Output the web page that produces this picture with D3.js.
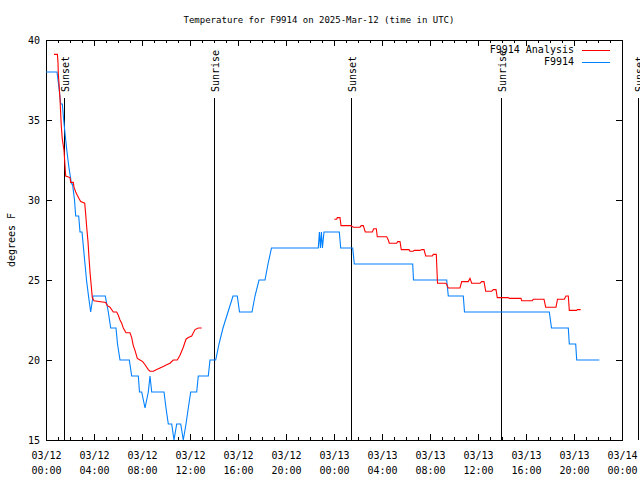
<!DOCTYPE html>
<html>
<head>
<meta charset="utf-8">
<script src="https://cdn.jsdelivr.net/npm/d3@7"></script>
<style>
  html, body { margin: 0; padding: 0; background: #fff; }
  svg { display: block; }
  text { font-family: "DejaVu Sans Mono", "Liberation Mono", monospace; font-size: 10px; fill: #000; }
</style>
</head>
<body>
<script>
// ---- Data (minutes after 2025-03-12 00:00 UTC, temperature °F) ----
const obsMinutes = [0,55,65,73.5,81.5,88.5,96.5,105,115,127.5,132.5,142.5,148.5,163.5,170,180,187.5,195,202.5,212.5,223.5,235,296.5,311.5,323.5,350,357.5,370,416.5,428.5,461.5,467.5,478.5,495,511.5,520,528.5,590,600,611.5,628.5,640,653.5,673.5,686.5,700,711.5,723.5,753.5,761.5,811.5,820,848.5,865,885,910,935,956.5,967.5,1030,1045,1065,1095,1110,1127.5,1361.5,1367,1372,1377,1382,1390,1466.5,1473.5,1533.5,1541.5,1833.5,1837.5,2003.5,2011.5,2086.5,2092.5,2516.5,2527.5,2611.5,2616.5,2648.5,2653.5,2766.5];
const obsTemps   = [38,38,37,36,36,35,34,33,32,31,31,30,29,29,28,28,27,26,25,24,23,24,24,23,22,22,21,20,20,19,19,18,18,17,18,19,18,18,17,16,16,15,16,16,15,16,17,18,18,19,19,20,20,21,22,23,24,24,23,23,24,25,25,26,27,27,28,27,28,27,28,28,27,27,26,26,25,25,24,24,23,23,22,22,21,21,20,20];

const analysisMinutes = [40,57,60,61.5,65,70,76.5,81.5,90,98.5,120,123.5,136.5,140,148.5,156.5,165,173.5,193.5,198.5,203.5,210,215,220,226.5,231.5,240,298.5,306.5,320,336.5,353.5,361.5,370,378.5,386.5,400,420,428.5,436.5,445,456.5,470,483.5,495,511.5,520,536.5,553.5,570,586.5,603.5,620,636.5,656.5,670,686.5,700,711.5,728.5,745,761.5,778.5,
  1100,
  1441.5,1453.5,1456.5,1470,1475,1523.5,1536.5,1570,1576.5,1586.5,1596.5,1631.5,1638.5,1651.5,1656.5,1703.5,1711.5,1716.5,1753.5,1758.5,1770,1776.5,1815,1820,1836.5,1841.5,1870,1878.5,1890,1898.5,1931.5,1936.5,1951.5,1957.5,2000,2011.5,2070,2078.5,2111.5,2120,2128.5,2170,2178.5,2190,2198.5,2228.5,2236.5,2250,2256.5,2311.5,2316.5,2375,2378.5,2431.5,2436.5,2490,2498.5,2550,2557.5,2591.5,2600,2611.5,2616.5,2652.5,2657.5,2673.5];
const analysisTemps = [39.1,39.1,38.6,37.9,37.3,36.3,34.6,33.8,33.1,31.5,31.4,31.1,31.1,30.8,30.5,30.3,30.1,29.9,29.8,29.1,28.3,27.4,26.4,25.5,24.6,23.9,23.7,23.6,23.4,23.3,23.0,23.0,22.8,22.5,22.3,22.0,21.7,21.7,21.4,20.9,20.6,20.1,20.0,19.9,19.7,19.4,19.3,19.3,19.4,19.5,19.6,19.7,19.8,20.0,20.0,20.3,20.8,21.3,21.4,21.5,21.9,22.0,22.0,
  null,
  28.8,28.8,28.9,28.9,28.4,28.4,28.3,28.3,28.4,28.4,28.0,28.0,28.2,28.2,27.7,27.7,27.5,27.3,27.3,27.4,27.4,26.9,26.9,26.8,26.8,26.85,26.85,26.9,26.9,26.5,26.5,26.6,26.6,24.8,24.8,24.5,24.5,24.9,24.9,25.1,24.8,24.8,24.9,24.9,24.3,24.3,24.4,24.4,23.9,23.9,23.85,23.85,23.7,23.7,23.8,23.8,23.3,23.3,23.8,23.8,24.0,24.0,23.1,23.1,23.15,23.15];

const sunMinutes = [90, 840, 1525, 2275, 2960];
const sunLabels  = ["Sunset", "Sunrise", "Sunset", "Sunrise", "Sunset"];

const yTicks = [15, 20, 25, 30, 35, 40];
const seriesNames = ["F9914 Analysis", "F9914"];
const seriesColors = ["#ff0000", "#0080ff"];
const titleText = "Temperature for F9914 on 2025-Mar-12 (time in UTC)";
const yLabel = "degrees F";

// ---- Layout ----
const W = 640, H = 480;
const L = 46, R = 622, T = 40, B = 440;
const base = Date.UTC(2025, 2, 12, 0, 0);
const toDate = m => new Date(base + m * 60000);

const x = d3.scaleUtc().domain([toDate(0), toDate(2880)]).range([L, R]);
const y = d3.scaleLinear().domain([15, 40]).range([B, T]);

const svg = d3.select("body").append("svg").attr("width", W).attr("height", H);

svg.append("defs").append("clipPath").attr("id", "plotclip")
  .append("rect").attr("x", L).attr("y", T).attr("width", R - L).attr("height", B - T + 1);

// Title
svg.append("text").attr("x", 319).attr("y", 20).attr("text-anchor", "middle")
  .attr("dominant-baseline", "middle").style("font-size", "9px").text(titleText);

// Y label
svg.append("text").attr("transform", "translate(12,240) rotate(-90)")
  .attr("text-anchor", "middle").attr("dominant-baseline", "middle").text(yLabel);

// Axes ticks (inward)
const major = d3.utcHour.every(4), minor = d3.utcHour.every(1);
function clean(g) { g.select(".domain").remove(); g.selectAll("line").attr("stroke", "#000").attr("shape-rendering", "crispEdges"); }
svg.append("g").attr("transform", `translate(0,${B})`).call(d3.axisTop(x).ticks(minor).tickSize(3).tickFormat("")).call(clean);
svg.append("g").attr("transform", `translate(0,${B})`).call(d3.axisTop(x).ticks(major).tickSize(6).tickFormat("")).call(clean);
svg.append("g").attr("transform", `translate(0,${T})`).call(d3.axisBottom(x).ticks(minor).tickSize(3).tickFormat("")).call(clean);
svg.append("g").attr("transform", `translate(0,${T})`).call(d3.axisBottom(x).ticks(major).tickSize(6).tickFormat("")).call(clean);
svg.append("g").attr("transform", `translate(${L},0)`).call(d3.axisRight(y).tickValues(yTicks).tickSize(6).tickFormat("")).call(clean);
svg.append("g").attr("transform", `translate(${R},0)`).call(d3.axisLeft(y).tickValues(yTicks).tickSize(6).tickFormat("")).call(clean);

// Y labels
const yl = svg.append("g").attr("transform", `translate(${L},0)`)
  .call(d3.axisLeft(y).tickValues(yTicks).tickSize(0).tickPadding(6).tickFormat(d3.format("d")));
yl.select(".domain").remove();
yl.selectAll("text").attr("font-family", null).attr("font-size", null).attr("fill", "#000");

// X labels (two lines)
const xl = svg.append("g").attr("transform", `translate(0,${B})`)
  .call(d3.axisBottom(x).ticks(major).tickSize(0).tickFormat(""));
xl.select(".domain").remove();
const fDay = d3.utcFormat("%m/%d"), fTime = d3.utcFormat("%H:%M");
xl.selectAll(".tick").each(function(d) {
  const t = d3.select(this).append("text").attr("text-anchor", "middle");
  t.append("tspan").attr("x", 0).attr("y", 19).text(fDay(d));
  t.append("tspan").attr("x", 0).attr("y", 34).text(fTime(d));
});

// Frame
svg.append("rect").attr("x", L + 0.5).attr("y", T + 0.5).attr("width", R - L).attr("height", B - T)
  .attr("fill", "none").attr("stroke", "#000").attr("stroke-width", 1);

// Sunrise / sunset markers
const sun = svg.append("g");
sunMinutes.forEach((m, i) => {
  const sx = Math.round(x(toDate(m))) + 0.5;
  sun.append("line").attr("x1", sx).attr("x2", sx).attr("y1", 98).attr("y2", B)
    .attr("stroke", "#000").attr("stroke-width", 1);
  sun.append("text").attr("transform", `translate(${sx + 4},92) rotate(-90)`)
    .attr("text-anchor", "start").text(sunLabels[i]);
});

// Series
const line = d3.line().defined(d => d[1] != null).x(d => x(toDate(d[0]))).y(d => y(d[1]));
const obsData = obsMinutes.map((m, i) => [m, obsTemps[i]]);
const anaData = analysisMinutes.map((m, i) => [m, analysisTemps[i]]);
const plot = svg.append("g").attr("clip-path", "url(#plotclip)");
plot.append("path").datum(obsData).attr("d", line).attr("fill", "none")
  .attr("stroke", seriesColors[1]).attr("stroke-width", 1.1);
plot.append("path").datum(anaData).attr("d", line).attr("fill", "none")
  .attr("stroke", seriesColors[0]).attr("stroke-width", 1.1);

// Legend
seriesNames.forEach((n, i) => {
  const ly = 50 + i * 12;
  svg.append("text").attr("x", 574).attr("y", ly).attr("text-anchor", "end")
    .attr("dominant-baseline", "middle").text(n);
  svg.append("line").attr("x1", 582).attr("x2", 610).attr("y1", ly + 0.5).attr("y2", ly + 0.5)
    .attr("stroke", seriesColors[i]).attr("stroke-width", 1);
});
</script>
</body>
</html>
